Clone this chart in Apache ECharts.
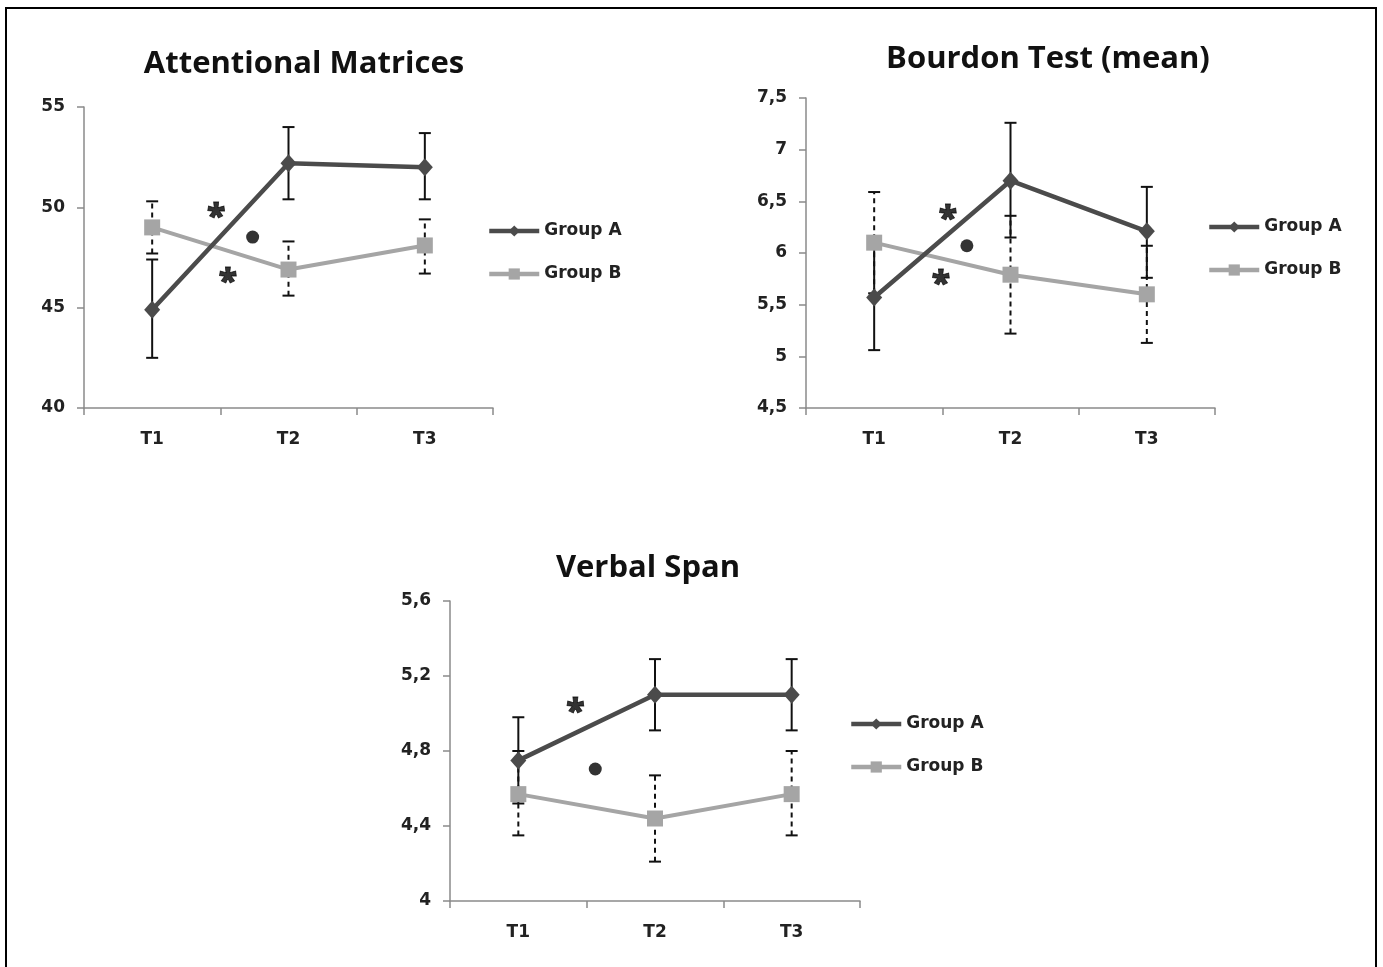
<!DOCTYPE html>
<html>
<head>
<meta charset="utf-8">
<title>Attention tests</title>
<script src="https://cdn.jsdelivr.net/npm/echarts@6/dist/echarts.min.js"></script>
<style>
  html, body { margin: 0; padding: 0; background: #fff; }
  #chart { width: 1383px; height: 967px; }
  #frame {
    position: absolute; left: 5px; top: 7px; width: 1368px; height: 980px;
    border-left: 2px solid #000; border-top: 2px solid #000; border-right: 2px solid #000;
    pointer-events: none;
  }
</style>
</head>
<body>
<div id="chart"></div>
<div id="frame"></div>
<script>
const categories = ["T1", "T2", "T3"];

// Attentional Matrices
const amMeanA = [44.9, 52.2, 52.0];
const amLowA = [42.5, 50.4, 50.4];
const amHighA = [47.4, 54.0, 53.7];
const amMeanB = [49.0, 46.9, 48.1];
const amLowB = [47.7, 45.6, 46.7];
const amHighB = [50.3, 48.3, 49.4];
const amStars = [[0.47, 49.87], [0.555, 46.63]];
const amDots = [[0.737, 48.52]];

// Bourdon Test (mean)
const btMeanA = [5.57, 6.70, 6.21];
const btLowA = [5.06, 6.15, 5.76];
const btHighA = [6.08, 7.26, 6.64];
const btMeanB = [6.10, 5.79, 5.60];
const btLowB = [5.61, 5.22, 5.13];
const btHighB = [6.59, 6.36, 6.07];
const btStars = [[0.54, 6.39], [0.49, 5.76]];
const btDots = [[0.68, 6.07]];

// Verbal Span
const vsMeanA = [4.75, 5.10, 5.10];
const vsLowA = [4.52, 4.91, 4.91];
const vsHighA = [4.98, 5.29, 5.29];
const vsMeanB = [4.57, 4.44, 4.57];
const vsLowB = [4.35, 4.21, 4.35];
const vsHighB = [4.80, 4.67, 4.80];
const vsStars = [[0.417, 5.045]];
const vsDots = [[0.563, 4.704]];

const panels = [
  { title: "Attentional Matrices", min: 40, max: 55, interval: 5,
    meanA: amMeanA, lowA: amLowA, highA: amHighA,
    meanB: amMeanB, lowB: amLowB, highB: amHighB, stars: amStars, dots: amDots },
  { title: "Bourdon Test (mean)", min: 4.5, max: 7.5, interval: 0.5,
    meanA: btMeanA, lowA: btLowA, highA: btHighA,
    meanB: btMeanB, lowB: btLowB, highB: btHighB, stars: btStars, dots: btDots },
  { title: "Verbal Span", min: 4, max: 5.6, interval: 0.4,
    meanA: vsMeanA, lowA: vsLowA, highA: vsHighA,
    meanB: vsMeanB, lowB: vsLowB, highB: vsHighB, stars: vsStars, dots: vsDots },
];

// layout of each panel (pixels)
const grids = [
  { left: 84, top: 107, width: 409, height: 301 },
  { left: 806, top: 98, width: 409, height: 310 },
  { left: 450, top: 601, width: 410, height: 300 },
];
const titlePos = [[299, 44], [1043, 39], [643, 548]];
const legendPos = [[482, 216], [1202, 212], [844, 709]];

const colorA = "#4b4b4b";
const colorB = "#a5a5a5";
const labelFont = "DejaVu Sans";

const errorBar = (dashed) => (params, api) => {
  const x = api.value(0);
  const lo = api.coord([x, api.value(1)]);
  const hi = api.coord([x, api.value(2)]);
  const cap = 6;
  const capStyle = { stroke: "#111", lineWidth: 2 };
  return {
    type: "group",
    children: [
      { type: "line", shape: { x1: lo[0], y1: lo[1], x2: hi[0], y2: hi[1] },
        style: { stroke: "#111", lineWidth: 2, lineDash: dashed ? [5, 4] : null } },
      { type: "line", shape: { x1: lo[0] - cap, y1: lo[1], x2: lo[0] + cap, y2: lo[1] }, style: capStyle },
      { type: "line", shape: { x1: hi[0] - cap, y1: hi[1], x2: hi[0] + cap, y2: hi[1] }, style: capStyle },
    ],
  };
};

const fmt = (v) => String(Math.round(v * 10) / 10).replace(".", ",");

const xAxes = [];
const yAxes = [];
const series = [];

panels.forEach((p, i) => {
  xAxes.push({
    type: "category",
    gridIndex: i,
    data: categories,
    boundaryGap: true,
    axisLine: { onZero: false, lineStyle: { color: "#8a8a8a", width: 1.5 } },
    axisTick: { show: true, length: 7, lineStyle: { color: "#8a8a8a", width: 1.5 } },
    axisLabel: { margin: 23, fontFamily: labelFont, fontSize: 17, fontWeight: "bold", color: "#222" },
  });
  yAxes.push({
    type: "value",
    gridIndex: i,
    min: p.min,
    max: p.max,
    interval: p.interval,
    splitLine: { show: false },
    axisLine: { show: true, onZero: false, lineStyle: { color: "#8a8a8a", width: 1.5 } },
    axisTick: { show: true, length: 7, lineStyle: { color: "#8a8a8a", width: 1.5 } },
    axisLabel: { margin: 19, fontFamily: labelFont, fontSize: 17, fontWeight: "bold", color: "#222",
      formatter: fmt },
  });

  series.push(
    { type: "custom", xAxisIndex: i, yAxisIndex: i, z: 1, renderItem: errorBar(false),
      encode: { x: 0, y: [1, 2] }, data: categories.map((c, k) => [k, p.lowA[k], p.highA[k]]) },
    { type: "custom", xAxisIndex: i, yAxisIndex: i, z: 1, renderItem: errorBar(true),
      encode: { x: 0, y: [1, 2] }, data: categories.map((c, k) => [k, p.lowB[k], p.highB[k]]) },
    { name: "Group B", type: "line", xAxisIndex: i, yAxisIndex: i, z: 2, data: p.meanB,
      symbol: "rect", symbolSize: 16, lineStyle: { color: colorB, width: 4 },
      itemStyle: { color: colorB } },
    { name: "Group A", type: "line", xAxisIndex: i, yAxisIndex: i, z: 3, data: p.meanA,
      symbol: "diamond", symbolSize: [16, 18], lineStyle: { color: colorA, width: 4.5 },
      itemStyle: { color: colorA } },
    { type: "scatter", xAxisIndex: 3 + i, yAxisIndex: i, z: 4, data: p.stars,
      symbolSize: 2, itemStyle: { color: "rgba(0,0,0,0)" },
      label: { show: true, position: "inside", formatter: "*", fontFamily: "Open Sans",
        fontSize: 34, fontWeight: 800, color: "#000", offset: [0, 8],
        textBorderColor: "#000", textBorderWidth: 0.8 } },
    { type: "scatter", xAxisIndex: 3 + i, yAxisIndex: i, z: 4, data: p.dots,
      symbol: "circle", symbolSize: 13, itemStyle: { color: "#000" } }
  );
});

// hidden value axes used to place the significance marks between categories
panels.forEach((p, i) => {
  xAxes.push({ type: "value", gridIndex: i, min: -0.5, max: 2.5, show: false });
});

const chart = echarts.init(document.getElementById("chart"));
chart.setOption({
  animation: false,
  backgroundColor: "#fff",
  title: panels.map((p, i) => ({
    text: p.title,
    left: titlePos[i][0],
    top: titlePos[i][1],
    textAlign: "center",
    textStyle: { fontFamily: "Open Sans", fontWeight: "bold", fontSize: 31, color: "#111" },
  })),
  legend: legendPos.map((pos) => ({
    data: ["Group A", "Group B"],
    orient: "vertical",
    left: pos[0],
    top: pos[1],
    itemWidth: 50,
    itemHeight: 14,
    itemGap: 23,
    selectedMode: false,
    lineStyle: { width: 4.5 },
    textStyle: { fontFamily: labelFont, fontSize: 17, fontWeight: "bold", color: "#222", lineHeight: 20 },
  })),
  grid: grids.map((g) => ({ ...g, containLabel: false })),
  xAxis: xAxes,
  yAxis: yAxes,
  series: series,
});
</script>
</body>
</html>
